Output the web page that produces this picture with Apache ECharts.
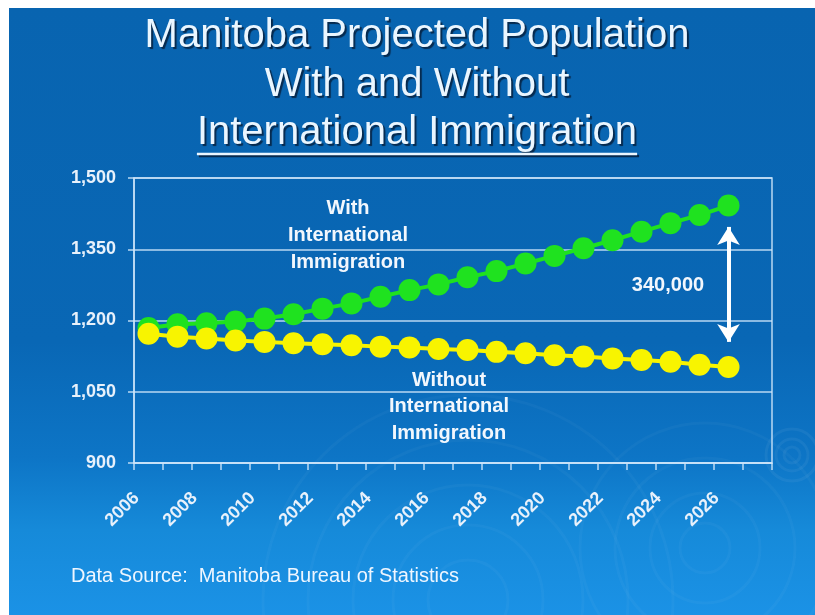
<!DOCTYPE html>
<html>
<head>
<meta charset="utf-8">
<script src="https://cdn.jsdelivr.net/npm/echarts@6/dist/echarts.min.js"></script>
<style>
  html, body { margin: 0; padding: 0; background: #ffffff; }
  #chart { width: 815px; height: 615px; }
</style>
</head>
<body>
<div id="chart"></div>
<script>
// Projection years (the last category is left empty as padding on the right)
const years = ['2006', '2007', '2008', '2009', '2010', '2011', '2012', '2013', '2014', '2015', '2016',
               '2017', '2018', '2019', '2020', '2021', '2022', '2023', '2024', '2025', '2026', '2027'];

// Population in thousands
const withImmigration = [1184, 1192, 1194, 1198, 1204, 1213, 1225, 1236, 1250, 1264, 1276,
                         1291, 1304, 1320, 1336, 1352, 1369, 1387, 1405, 1422, 1442];
const withoutImmigration = [1172, 1166, 1162, 1158, 1155, 1152, 1150, 1148, 1145, 1143, 1140,
                            1138, 1134, 1131, 1127, 1124, 1120, 1117, 1113, 1107, 1102];

const yMin = 900;
const yMax = 1500;
const yStep = 150;

// 2026 gap between the two projections, in thousands
const gapYear = '2026';
const gapTop = 1397;
const gapBottom = 1155;
const gapLabel = '340,000';

const titleLines = ['Manitoba Projected Population', 'With and Without', 'International Immigration'];
const sourceNote = 'Data Source:  Manitoba Bureau of Statistics';

const chart = echarts.init(document.getElementById('chart'), null, { renderer: 'canvas' });

const FONT = '"Liberation Sans", Arial, Helvetica, sans-serif';
const lineColor = 'rgba(205,228,250,0.9)';
const labelColor = '#e8f1fb';

// measure the underlined title line
const ctx = document.createElement('canvas').getContext('2d');
ctx.font = '40px ' + FONT;
const underlineW = ctx.measureText(titleLines[2]).width;

function rings(cx, cy, radii, alpha) {
  return radii.map(r => ({
    type: 'circle', silent: true, z: -9,
    shape: { cx: cx, cy: cy, r: r },
    style: { fill: 'none', stroke: 'rgba(255,255,255,' + alpha + ')', lineWidth: 3 }
  }));
}

const titleShadow = { textShadowColor: 'rgba(5,30,60,0.85)', textShadowOffsetX: 2, textShadowOffsetY: 2, textShadowBlur: 1 };

const graphics = [
  // slide background
  {
    type: 'rect', silent: true, z: -10,
    shape: { x: 9, y: 8, width: 806, height: 607 },
    style: {
      fill: new echarts.graphic.LinearGradient(0, 0, 0, 1, [
        { offset: 0, color: '#0864b0' },
        { offset: 0.55, color: '#0967b5' },
        { offset: 0.74, color: '#0d75c6' },
        { offset: 0.86, color: '#168ad9' },
        { offset: 1, color: '#1b92e6' }
      ])
    }
  },
  ...rings(468, 600, [40, 75, 115, 160, 205], 0.03),
  ...rings(705, 548, [25, 55, 90, 125], 0.03),
  ...rings(792, 455, [8, 16, 26], 0.05),
  // title
  ...titleLines.map((t, i) => ({
    type: 'text', silent: true,
    x: 417, y: 36 + i * 48.5,
    style: Object.assign({
      text: t, font: '40px ' + FONT, fill: '#eaf6ff', align: 'center', verticalAlign: 'middle'
    }, titleShadow)
  })),
  {
    type: 'line', silent: true,
    shape: { x1: 417 - underlineW / 2, y1: 154, x2: 417 + underlineW / 2, y2: 154 },
    style: { stroke: '#eaf6ff', lineWidth: 2.5, shadowColor: 'rgba(5,30,60,0.85)', shadowOffsetX: 2, shadowOffsetY: 2 }
  },
  // series annotations
  {
    type: 'text', silent: true, x: 348, y: 208,
    style: { text: 'With\nInternational\nImmigration', font: 'bold 20px ' + FONT, fill: '#f2f7fd',
             align: 'center', verticalAlign: 'middle', lineHeight: 27 }
  },
  {
    type: 'text', silent: true, x: 449, y: 380,
    style: { text: 'Without\nInternational\nImmigration', font: 'bold 20px ' + FONT, fill: '#f2f7fd',
             align: 'center', verticalAlign: 'middle', lineHeight: 26.5 }
  },
  {
    type: 'text', silent: true, x: 668, y: 285,
    style: { text: gapLabel, font: 'bold 20px ' + FONT, fill: '#f2f7fd', align: 'center', verticalAlign: 'middle' }
  },
  // source note
  {
    type: 'text', silent: true, x: 71, y: 576,
    style: { text: sourceNote, font: '20px ' + FONT, fill: '#eef6ff', align: 'left', verticalAlign: 'middle' }
  }
];

// multi-line annotation blocks are positioned by their first line; shift to block centre
graphics.forEach(g => {
  if (g.type === 'text' && g.style.text && g.style.text.indexOf('\n') >= 0) {
    g.y += g.style.lineHeight;
  }
});

const option = {
  backgroundColor: 'transparent',
  animation: false,
  graphic: graphics,
  grid: {
    left: 134, right: 43, top: 178, bottom: 152,
    show: true, borderColor: lineColor, borderWidth: 1.5, backgroundColor: 'transparent'
  },
  xAxis: {
    type: 'category',
    data: years,
    boundaryGap: true,
    axisLine: { lineStyle: { color: lineColor, width: 1.5 } },
    axisTick: { show: true, interval: 0, length: 7, lineStyle: { color: lineColor, width: 1.5 } },
    axisLabel: {
      interval: 1, rotate: 45, margin: 33,
      verticalAlign: 'bottom', padding: [0, 8, 0, 0],
      color: labelColor, fontFamily: FONT, fontWeight: 'bold', fontSize: 18
    },
    splitLine: { show: false }
  },
  yAxis: {
    type: 'value',
    min: yMin, max: yMax, interval: yStep,
    axisLine: { show: true, lineStyle: { color: lineColor, width: 1.5 } },
    axisTick: { show: true, length: 6, lineStyle: { color: lineColor, width: 1.5 } },
    axisLabel: {
      margin: 18, color: labelColor, fontFamily: FONT, fontWeight: 'bold', fontSize: 18,
      formatter: v => v.toLocaleString('en-US')
    },
    splitLine: { show: true, lineStyle: { color: lineColor, width: 1.5 } }
  },
  series: [
    {
      name: 'With International Immigration',
      type: 'line',
      data: withImmigration,
      symbol: 'circle', symbolSize: 22, showAllSymbol: true,
      itemStyle: { color: '#1fe21f' },
      lineStyle: { color: '#1fe21f', width: 4 },
      z: 3
    },
    {
      name: 'Without International Immigration',
      type: 'line',
      data: withoutImmigration,
      symbol: 'circle', symbolSize: 22, showAllSymbol: true,
      itemStyle: { color: '#f8f400' },
      lineStyle: { color: '#f8f400', width: 4 },
      z: 4,
      markLine: {
        silent: true,
        symbol: ['arrow', 'arrow'],
        symbolSize: [17, 18],
        label: { show: false },
        lineStyle: { color: '#ffffff', width: 4, type: 'solid' },
        data: [[{ coord: [gapYear, gapTop] }, { coord: [gapYear, gapBottom] }]]
      }
    }
  ]
};

chart.setOption(option);
</script>
</body>
</html>
